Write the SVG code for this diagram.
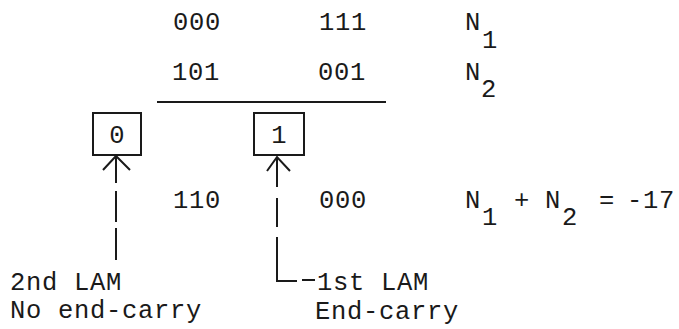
<svg xmlns="http://www.w3.org/2000/svg" width="679" height="329" viewBox="0 0 679 329">
<style>
text{font-family:"Liberation Mono","DejaVu Sans Mono",monospace;font-size:25.5px;letter-spacing:0.7px;fill:#1a1a1a}
.ln{stroke:#1a1a1a;stroke-width:2;fill:none}
.box{stroke:#1a1a1a;stroke-width:2;fill:none}
.c{text-anchor:middle;letter-spacing:0}
</style>
<rect width="679" height="329" fill="#fff"/>
<g id="rows">
<text x="173" y="30">000</text>
<text x="319" y="30">111</text>
<text x="465" y="30">N</text><text x="482" y="48">1</text>
<text x="172" y="80">101</text>
<text x="318" y="80">001</text>
<text x="465" y="80">N</text><text x="481" y="97">2</text>
<text x="173" y="208">110</text>
<text x="319" y="208">000</text>
<text x="465" y="208">N</text><text x="482" y="225">1</text>
<text x="514" y="208">+</text>
<text x="545" y="208">N</text><text x="562" y="225">2</text>
<text x="599" y="208">=</text>
<text x="627" y="208">-17</text>
</g>
<line id="sumline" class="ln" x1="157" y1="102" x2="386" y2="102"/>
<g id="carry0">
<rect class="box" x="93" y="113" width="48" height="42"/>
<text class="c" x="117" y="143">0</text>
</g>
<g id="carry1">
<rect class="box" x="254" y="113" width="50" height="42"/>
<text class="c" x="279" y="143">1</text>
</g>
<g id="label2nd">
<text x="10" y="290">2nd LAM</text>
<text x="10" y="318">No end-carry</text>
</g>
<g id="label1st">
<text x="317" y="290">1st LAM</text>
<text x="315" y="319">End-carry</text>
</g>
<g id="connectors">
<polyline class="ln" points="103,170 116,156 130,170"/>
<line class="ln" x1="116" y1="156" x2="116" y2="183"/>
<line class="ln" x1="116" y1="191" x2="116" y2="222"/>
<line class="ln" x1="116" y1="228" x2="116" y2="260"/>
<polyline class="ln" points="267,171 277,157 290,171"/>
<line class="ln" x1="277" y1="157" x2="277" y2="187"/>
<line class="ln" x1="277" y1="198" x2="277" y2="227"/>
<polyline class="ln" points="277,237 277,281 297,281"/>
<line class="ln" x1="302" y1="280" x2="315" y2="280"/>
</g>
</svg>
